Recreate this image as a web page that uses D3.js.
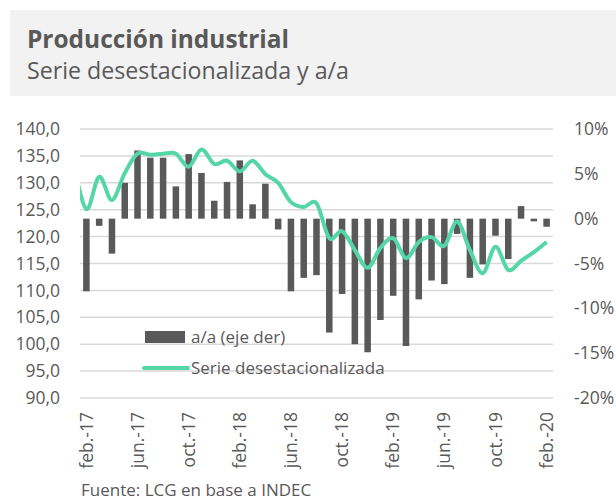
<!DOCTYPE html>
<html>
<head>
<meta charset="utf-8">
<script src="https://cdn.jsdelivr.net/npm/d3@7"></script>
<style>
    body { margin: 0; background: #ffffff; }
    text { font-family: "Open Sans", "Noto Sans", sans-serif; fill: #595959; }
</style>
</head>
<body>
<svg id="drawing_region"></svg>
<script>
// meses del eje (feb.-17 a feb.-20)
const months = [
    'feb.-17','mar.-17','abr.-17','may.-17','jun.-17','jul.-17','ago.-17','sep.-17','oct.-17','nov.-17','dic.-17','ene.-18',
    'feb.-18','mar.-18','abr.-18','may.-18','jun.-18','jul.-18','ago.-18','sep.-18','oct.-18','nov.-18','dic.-18','ene.-19',
    'feb.-19','mar.-19','abr.-19','may.-19','jun.-19','jul.-19','ago.-19','sep.-19','oct.-19','nov.-19','dic.-19','ene.-20',
    'feb.-20'
];
// a/a en % (eje derecho)
const yoy = [
    -8.1, -0.8, -3.9, 4.0, 7.6, 6.8, 6.8, 3.6, 7.2, 5.1, 2.0, 4.1,
    6.5, 1.6, 3.9, -1.2, -8.1, -6.6, -6.3, -12.7, -8.4, -14.0, -14.9, -11.3,
    -8.6, -14.2, -9.0, -6.9, -7.3, -1.7, -6.6, -5.1, -1.9, -4.5, 1.4, -0.3,
    -0.9
];
// serie desestacionalizada (eje izquierdo); empieza en ene.-17, que queda fuera del área
const serieMonths = ['ene.-17'].concat(months);
const serie = [
    133.5,
    125.1, 131.1, 126.8, 131.8, 135.4, 135.2, 135.4, 135.4, 133.0, 136.2, 133.5, 134.1,
    132.1, 134.1, 131.6, 130.0, 126.4, 125.5, 126.2, 119.7, 121.0, 117.5, 114.2, 117.9,
    119.7, 116.0, 119.0, 119.9, 118.3, 122.8, 117.5, 113.2, 118.1, 113.8, 115.5, 117.1,
    119.0
];
const leftTicks = [90, 95, 100, 105, 110, 115, 120, 125, 130, 135, 140];
const rightTicks = [-20, -15, -10, -5, 0, 5, 10];
const xTickLabels = ['feb.-17','jun.-17','oct.-17','feb.-18','jun.-18','oct.-18','feb.-19','jun.-19','oct.-19','feb.-20'];
const legendLabels = ['a/a (eje der)', 'Serie desestacionalizada'];

class ComboChart {

    constructor(config) {
        this.config = config;
        this.init();
    }

    init() {
        let self = this;
        let c = self.config;

        self.svg = d3.select(c.parent)
            .attr('width', c.width)
            .attr('height', c.height);

        // cabecera gris
        self.svg.append('rect')
            .attr('x', 10).attr('y', 10)
            .attr('width', c.width - 10).attr('height', 86)
            .attr('fill', '#f2f2f2');

        self.svg.append('text')
            .attr('x', 27).attr('y', 48)
            .attr('font-size', 25).attr('font-weight', 'bold')
            .attr('textLength', 262).attr('lengthAdjust', 'spacingAndGlyphs')
            .text('Producción industrial');

        self.svg.append('text')
            .attr('x', 27).attr('y', 79)
            .attr('font-size', 23)
            .attr('textLength', 322).attr('lengthAdjust', 'spacingAndGlyphs')
            .text('Serie desestacionalizada y a/a');

        self.xscale = d3.scaleBand()
            .domain(months)
            .range([c.left, c.right])
            .paddingInner(0.49)
            .paddingOuter(0.245);

        // posición de la línea por índice de mes (centros de las barras)
        self.xindex = d3.scaleLinear()
            .domain([-0.5, months.length - 0.5])
            .range([c.left, c.right]);

        self.yleft = d3.scaleLinear()
            .domain([90, 140])
            .range([c.bottom, c.top]);

        self.yright = d3.scaleLinear()
            .domain([-20, 10])
            .range([c.bottom, c.top]);

        self.svg.append('clipPath')
            .attr('id', 'plotclip')
            .append('rect')
            .attr('x', c.left).attr('y', c.top - 20)
            .attr('width', c.right - c.left).attr('height', c.bottom - c.top + 40);
    }

    render() {
        let self = this;
        let c = self.config;

        // grilla
        self.svg.append('g')
            .selectAll('line')
            .data(leftTicks)
            .join('line')
            .attr('x1', c.left).attr('x2', c.right)
            .attr('y1', d => self.yleft(d)).attr('y2', d => self.yleft(d))
            .attr('stroke', '#d9d9d9')
            .attr('stroke-width', 1.5);

        let yaxisL = d3.axisLeft(self.yleft)
            .tickValues(leftTicks)
            .tickFormat(d => d3.format('.1f')(d).replace('.', ','))
            .tickSize(0)
            .tickPadding(20);

        let yaxisR = d3.axisRight(self.yright)
            .tickValues(rightTicks)
            .tickFormat(d => d + '%')
            .tickSize(0)
            .tickPadding(21);

        let xaxis = d3.axisBottom(self.xscale)
            .tickValues(xTickLabels)
            .tickSize(0);

        let gl = self.svg.append('g')
            .attr('transform', `translate(${c.left}, 0)`)
            .call(yaxisL);
        let gr = self.svg.append('g')
            .attr('transform', `translate(${c.right}, 0)`)
            .call(yaxisR);
        let gx = self.svg.append('g')
            .attr('transform', `translate(0, ${c.bottom})`)
            .call(xaxis);

        [gl, gr, gx].forEach(g => {
            g.select('.domain').remove();
            g.selectAll('text')
                .attr('fill', '#595959')
                .attr('font-size', 17.5)
                .attr('font-family', '"Open Sans", sans-serif');
        });

        gx.selectAll('text')
            .attr('transform', 'rotate(-90)')
            .attr('text-anchor', 'end')
            .attr('x', -14)
            .attr('y', 0)
            .attr('dy', '0.35em');

        // barras a/a
        self.svg.append('g')
            .selectAll('rect')
            .data(yoy)
            .join('rect')
            .attr('x', (d, i) => self.xscale(months[i]))
            .attr('width', self.xscale.bandwidth())
            .attr('y', d => self.yright(Math.max(0, d)))
            .attr('height', d => Math.abs(self.yright(d) - self.yright(0)))
            .attr('fill', '#595959');

        // serie desestacionalizada
        let line = d3.line()
            .x((d, i) => self.xindex(i - 1))
            .y(d => self.yleft(d))
            .curve(d3.curveCardinal.tension(0));

        self.svg.append('path')
            .attr('d', line(serie))
            .attr('clip-path', 'url(#plotclip)')
            .attr('fill', 'none')
            .attr('stroke', '#54d6a6')
            .attr('stroke-width', 4)
            .attr('stroke-linejoin', 'round');

        // leyenda
        let lg = self.svg.append('g');
        lg.append('rect')
            .attr('x', 145).attr('y', 331)
            .attr('width', 40).attr('height', 12)
            .attr('fill', '#595959');
        lg.append('line')
            .attr('x1', 144).attr('x2', 188)
            .attr('y1', 368).attr('y2', 368)
            .attr('stroke', '#54d6a6')
            .attr('stroke-width', 4)
            .attr('stroke-linecap', 'round');
        lg.selectAll('text')
            .data(legendLabels)
            .join('text')
            .attr('x', 191)
            .attr('y', (d, i) => 337 + i * 31)
            .attr('dy', '0.35em')
            .attr('font-size', 17)
            .text(d => d);

        self.svg.append('text')
            .attr('x', 81).attr('y', 496)
            .attr('font-size', 17)
            .text('Fuente: LCG en base a INDEC');
    }
}

let chart = new ComboChart({
    parent: '#drawing_region',
    width: 616,
    height: 502,
    left: 80,
    right: 553,
    top: 129,
    bottom: 398
});
chart.render();
</script>
</body>
</html>
